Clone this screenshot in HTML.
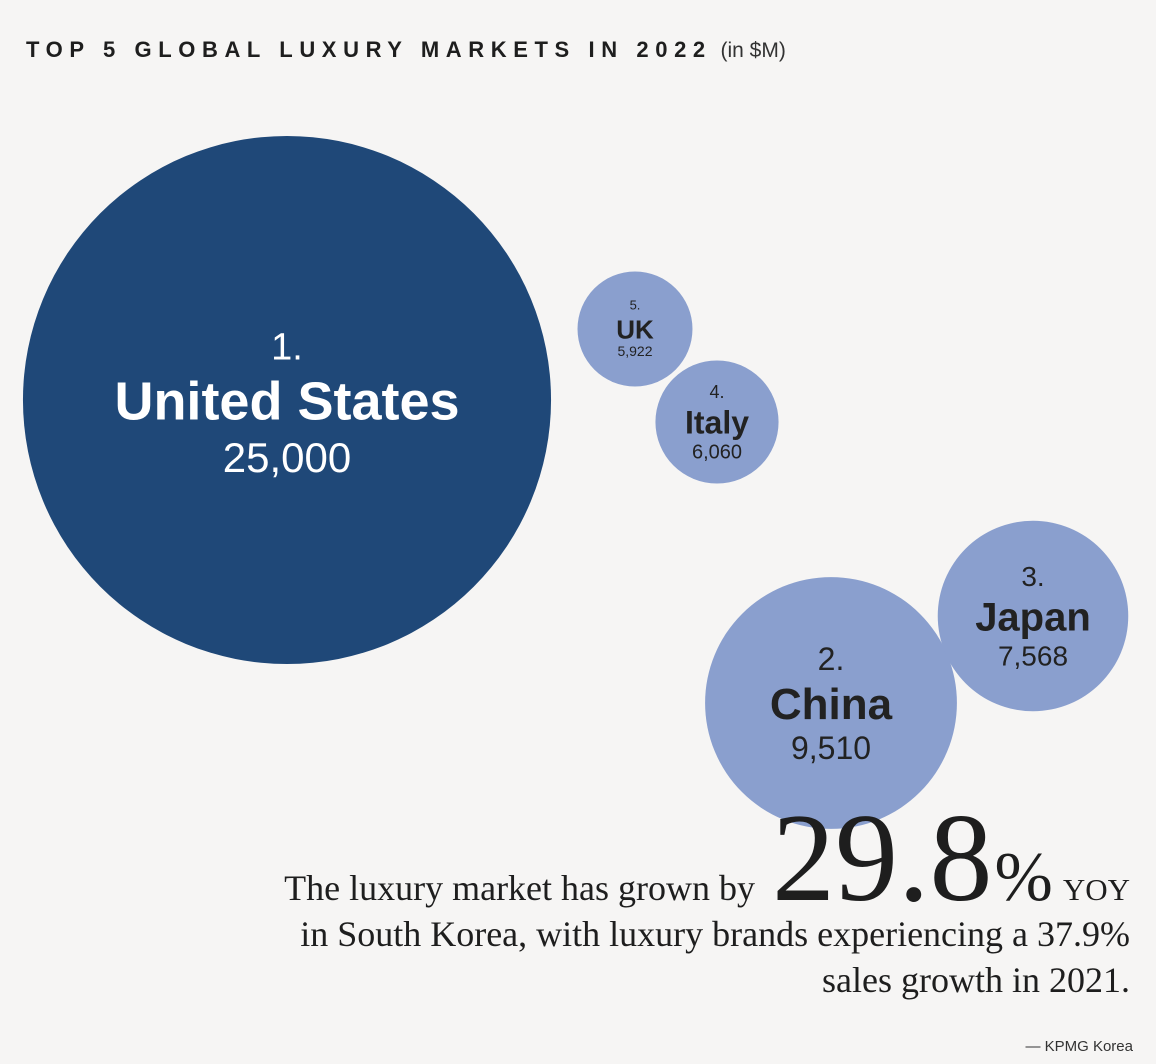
<!DOCTYPE html>
<html><head><meta charset="utf-8"><style>
body{margin:0;background:#f6f5f4;width:1156px;height:1064px;overflow:hidden;font-family:"Liberation Sans",sans-serif;}
svg{display:block}
</style></head><body>
<svg id="chart" width="1156" height="1064" viewBox="0 0 1156 1064">
<text x="26" y="57" font-family="Liberation Sans" font-weight="bold" font-size="22" letter-spacing="6.6" fill="#1e1e1e">TOP 5 GLOBAL LUXURY MARKETS IN 2022 <tspan font-weight="normal" letter-spacing="0" font-size="21" fill="#333" dx="-4">(in $M)</tspan></text>
<g id="bubbles"></g>
<g font-family="Liberation Serif, serif" fill="#1e1e1e" text-anchor="end">
<text x="1130" y="900" font-size="36">The luxury market has grown by <tspan font-size="126" dx="8" letter-spacing="0">29.8</tspan><tspan font-size="70" dx="2">%</tspan><tspan font-size="31" dx="10">YOY</tspan></text>
<text x="1130" y="946" font-size="36">in South Korea, with luxury brands experiencing a 37.9%</text>
<text x="1130" y="992" font-size="36">sales growth in 2021.</text>
</g>
<text x="1133" y="1051" text-anchor="end" font-size="15" fill="#333">— KPMG Korea</text>
</svg>
<script>
const countries = ["United States","China","Japan","Italy","UK"];
const ranks = [1,2,3,4,5];
const values = [25000,9510,7568,6060,5922];
const valueLabels = ["25,000","9,510","7,568","6,060","5,922"];
// layout (centers) and label sizes per position
const cx = [287,831,1033,717,635];
const cy = [400,703,616,422,329];
const fs = [[38,54,42],[32,44,32],[28,40,28],[18,32,20],[13,26,14]];
function rScale(v){return 1.86*Math.sqrt(Math.max(v-5000,0))+1;}
const g=document.getElementById('bubbles');
const NS="http://www.w3.org/2000/svg";
countries.forEach((c,i)=>{
  const r=Math.max(rScale(values[i]),40);
  const grp=document.createElementNS(NS,'g');
  
  
  const circ=document.createElementNS(NS,'circle');
  
  
  circ.setAttribute('cx',cx[i]);circ.setAttribute('cy',cy[i]);circ.setAttribute('r',r);
  circ.setAttribute('fill',i===0?'#1f4878':'#8a9fce');
  grp.appendChild(circ);
  const col=i===0?'#ffffff':'#222222';
  const f=fs[i];
  const lines=[[ranks[i]+'.',f[0],'normal',-f[1]*0.75],[c,f[1],'bold',f[1]*0.36],[valueLabels[i],f[2],'normal',f[1]*0.36+f[2]*1.25]];
  lines.forEach((L,j)=>{
    const t=document.createElementNS(NS,'text');
    
    
    t.setAttribute('x',cx[i]);t.setAttribute('y',cy[i]+L[3]);
    t.setAttribute('text-anchor','middle');t.setAttribute('font-size',L[1]);
    t.setAttribute('font-weight',L[2]);t.setAttribute('fill',col);
    t.textContent=L[0];grp.appendChild(t);
  });
  g.appendChild(grp);
});
</script>
</body></html>
